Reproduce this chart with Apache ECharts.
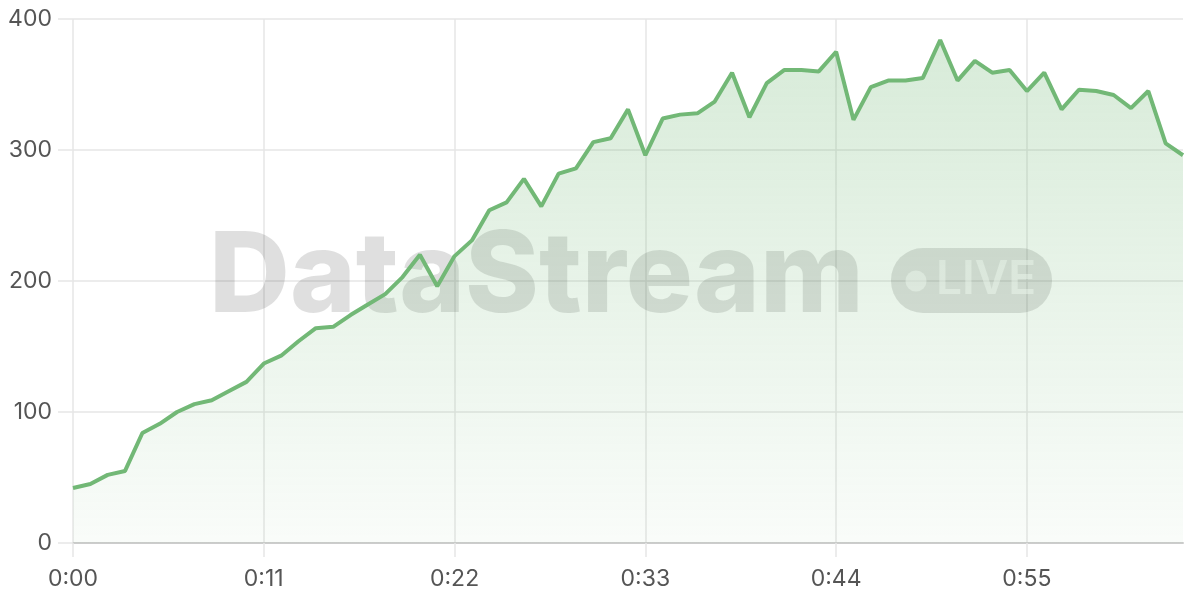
<!DOCTYPE html>
<html>
<head>
<meta charset="utf-8">
<script src="https://cdn.jsdelivr.net/npm/echarts@6/dist/echarts.min.js"></script>
<style>
html,body{margin:0;padding:0;background:#fff;}
#chart{width:1200px;height:600px;}
</style>
</head>
<body>
<div id="chart"></div>
<script>
// time labels (seconds 0..64)
const categories = [];
for (let s = 0; s <= 64; s++) {
  categories.push(Math.floor(s / 60) + ':' + String(s % 60).padStart(2, '0'));
}
const values = [
  42, 45, 52, 55, 84, 91, 100, 106, 109, 116, 123,
  137, 143, 154, 164, 165, 174, 182, 190, 203, 220,
  196, 219, 231, 254, 260, 278, 257, 282, 286, 306,
  309, 331, 296, 324, 327, 328, 337, 359, 325, 351,
  361, 361, 360, 375, 323, 348, 353, 353, 355, 384,
  353, 368, 359, 361, 345, 359, 331, 346, 345, 342,
  332, 345, 305, 296
];
const yTicks = [0, 100, 200, 300, 400];

const chart = echarts.init(document.getElementById('chart'));
const lineColor = '#72b876';
chart.setOption({
  animation: false,
  grid: { left: 73, right: 17, top: 19, bottom: 57 },
  xAxis: {
    type: 'category',
    data: categories,
    boundaryGap: false,
    axisLine: { lineStyle: { color: '#cccccc', width: 2 } },
    axisTick: { interval: 10, length: 14, lineStyle: { color: '#e6e6e6', width: 1.5 } },
    axisLabel: { interval: 10, color: '#555', fontSize: 23, margin: 25, fontFamily: 'Inter' },
    splitLine: { show: true, interval: 10, lineStyle: { color: '#e6e6e6', width: 1.5 } }
  },
  yAxis: {
    type: 'value',
    min: yTicks[0],
    max: yTicks[yTicks.length - 1],
    interval: 100,
    axisLine: { show: false },
    axisTick: { show: true, length: 15, lineStyle: { color: '#e6e6e6', width: 1.5 } },
    axisLabel: { color: '#555', fontSize: 23, margin: 21, fontFamily: 'Inter' },
    splitLine: { lineStyle: { color: '#e6e6e6', width: 1.5 } }
  },
  series: [{
    type: 'line',
    data: values,
    symbol: 'none',
    z: 10,
    lineStyle: { color: lineColor, width: 4 },
    areaStyle: {
      color: new echarts.graphic.LinearGradient(0, 0, 0, 1, [
        { offset: 0, color: 'rgba(114,184,118,0.40)' },
        { offset: 1, color: 'rgba(114,184,118,0.06)' }
      ])
    }
  }],
  graphic: [
    {
      type: 'text', z: 5, left: 209, top: 222,
      style: {
        text: 'DataStream', fill: 'rgba(0,0,0,0.125)',
        font: '800 112px Inter', letterSpacing: -2.5
      }
    },
    {
      type: 'rect', z: 5, shape: { x: 891, y: 248, width: 161, height: 65, r: 32 },
      style: { fill: 'rgba(0,0,0,0.125)' }
    },
    {
      type: 'circle', z: 6, shape: { cx: 916, cy: 281, r: 10.5 },
      style: { fill: 'rgba(255,255,255,0.55)' }
    },
    {
      type: 'text', z: 6, left: 936, top: 257,
      style: { text: 'LIVE', fill: 'rgba(255,255,255,0.55)', font: '600 46px Inter' }
    }
  ]
});
</script>
</body>
</html>
